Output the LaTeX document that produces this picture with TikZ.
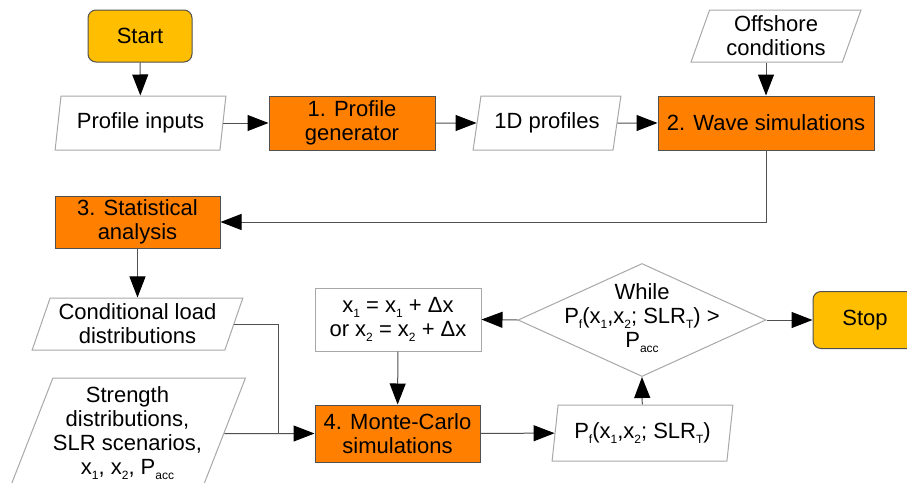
\documentclass[tikz,border=0pt]{standalone}
\usepackage{fontspec}
\setmainfont{Liberation Sans}
\usetikzlibrary{arrows.meta}
\usetikzlibrary{shapes.geometric}
\definecolor{gold}{HTML}{FFBF00}
\definecolor{orng}{HTML}{FF8000}
\definecolor{edge}{HTML}{505050}
\definecolor{thin}{HTML}{A8A8A8}
\newcommand{\lowsub}[1]{\raisebox{-5pt}{\fontsize{12}{12}\selectfont #1}}

\begin{document}
\begin{tikzpicture}[x=1pt, y=1pt,
    every node/.style={font=\fontsize{22}{24}\selectfont, align=center, line width=1pt},
    term/.style={rectangle, rounded corners=8pt, draw=edge, fill=gold, minimum width=104pt, minimum height=52pt},
    proc/.style={rectangle, draw=edge, fill=orng, minimum height=54pt, inner sep=0pt},
    data/.style={trapezium, trapezium left angle=73, trapezium right angle=107, trapezium stretches=true, draw=thin, fill=white, inner sep=0pt},
    line/.style={draw=edge, line width=1pt},
    arr/.style={line, -{Triangle[length=21pt, width=16pt, color=black]}}]
    \useasboundingbox (0,0) rectangle (907,-482);

    % first row
    \node[term] (start) at (140,-36) {Start};
    \node[data, minimum width=171pt, minimum height=54pt, trapezium left angle=77, trapezium right angle=103] (pin) at (140.5,-123) {Profile inputs};
    \node[proc, minimum width=166pt] (gen) at (352,-123) {1. Profile\\generator};
    \node[data, minimum width=148pt, minimum height=54pt] (prof) at (547,-123) {1D profiles};
    \node[proc, minimum width=216pt] (wave) at (766,-123) {2. Wave simulations};
    \node[data, minimum width=170pt, minimum height=52pt, trapezium left angle=71, trapezium right angle=109] (off) at (776,-36) {Offshore\\conditions};

    % statistics
    \node[proc, minimum width=165pt, minimum height=52pt] (stat) at (137.5,-222) {3. Statistical\\analysis};
    \node[data, minimum width=211pt, minimum height=52pt, trapezium left angle=68, trapezium right angle=112] (cond) at (137.5,-324) {Conditional load\\distributions};
    \node[data, minimum width=231pt, minimum height=111pt, trapezium left angle=65, trapezium right angle=115] (str) at (127.5,-433.5) {Strength\\distributions,\\SLR scenarios,\\x\lowsub{1}, x\lowsub{2}, P\lowsub{acc}};

    % monte-carlo loop
    \node[proc, minimum width=165pt, minimum height=57pt] (mc) at (397.5,-433.5) {4. Monte-Carlo\\simulations};
    \node[rectangle, draw=thin, fill=white, minimum width=166pt, minimum height=63pt, inner sep=0pt] (incr) at (398,-319.5) {x\lowsub{1} = x\lowsub{1} + Δx\\or x\lowsub{2} = x\lowsub{2} + Δx};
    \node[diamond, draw=thin, fill=white, minimum width=248pt, minimum height=113pt, inner sep=0pt] (while) at (642,-320) {};
    \node (whiletxt) at (642,-318) {While\\P\lowsub{f}(x\lowsub{1},x\lowsub{2}; SLR\lowsub{T}) >\\P\lowsub{acc}};
    \node[data, minimum width=181pt, minimum height=56pt, trapezium left angle=77, trapezium right angle=103] (pf) at (642.5,-433) {P\lowsub{f}(x\lowsub{1},x\lowsub{2}; SLR\lowsub{T})};
    \node[term, minimum height=57pt] (stop) at (865,-320) {Stop};

    \coordinate (join) at (278,-433.5);

    \draw[arr] (start) -- (pin);
    \draw[arr] (pin) -- (gen);
    \draw[arr] (gen) -- (prof);
    \draw[arr] (prof) -- (wave);
    \draw[arr] (wave.north |- off.south) -- (wave.north);
    \draw[arr] (wave.south) |- (stat.east);
    \draw[arr] (stat) -- (cond);
    \draw[line] (cond.east) -| (join);
    \draw[arr] (str.east) -- (mc.west);
    \draw[arr] (incr) -- (mc);
    \draw[arr] (mc) -- (pf);
    \draw[arr] (pf) -- (while.south);
    \draw[arr] (while.west) -- (incr.east);
    \draw[arr] (while.east) -- (stop.west);
\end{tikzpicture}
\end{document}
